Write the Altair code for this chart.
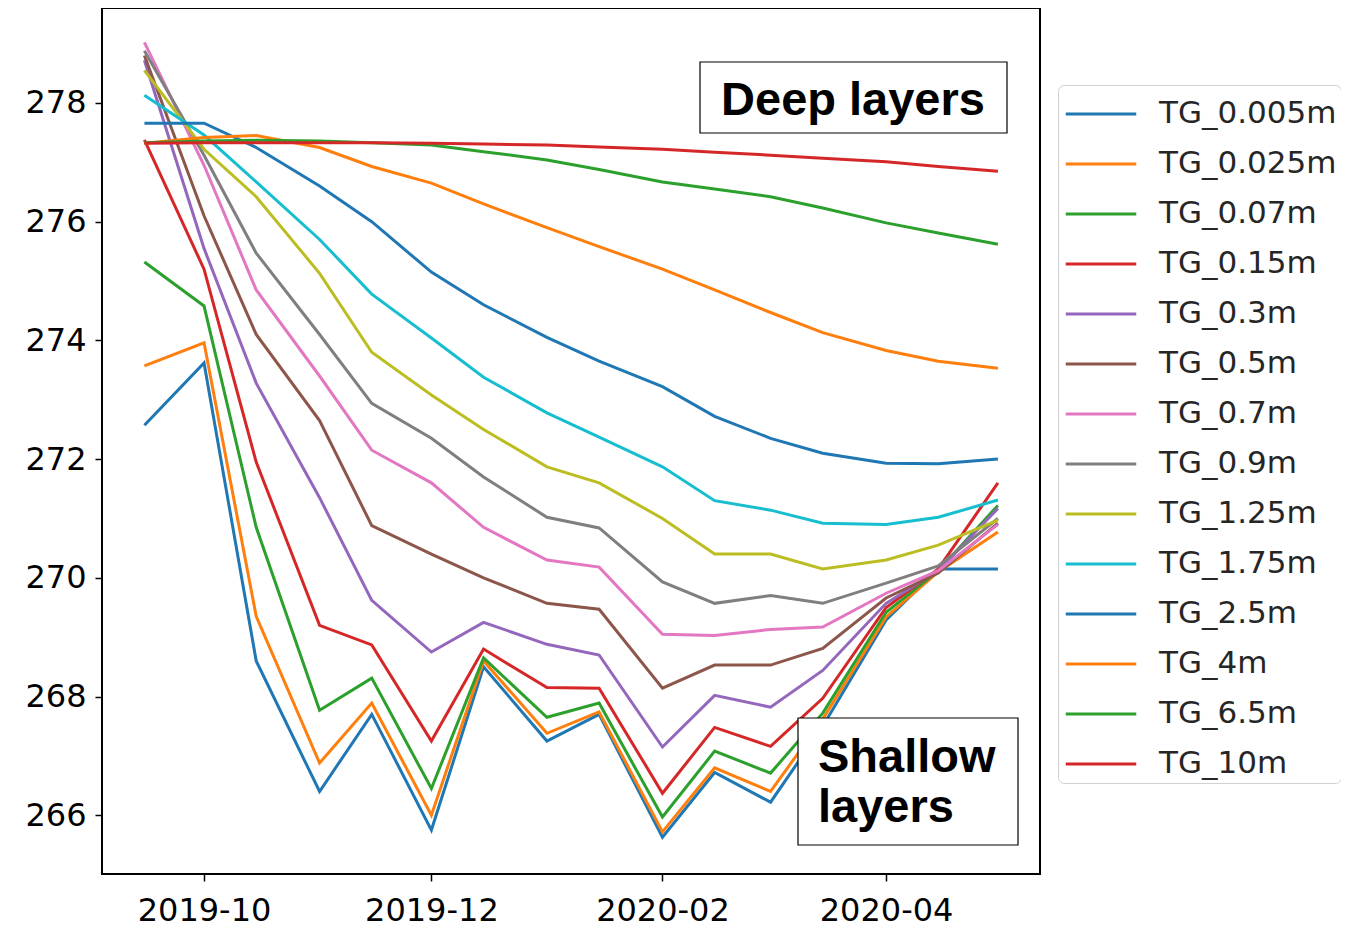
import altair as alt
import pandas as pd

# ---------------- data ----------------
dates = ["2019-09-15", "2019-10-01", "2019-10-15", "2019-11-01", "2019-11-15",
         "2019-12-01", "2019-12-15", "2020-01-01", "2020-01-15", "2020-02-01",
         "2020-02-15", "2020-03-01", "2020-03-15", "2020-04-01", "2020-04-15",
         "2020-05-01"]

series_names = ["TG_0.005m", "TG_0.025m", "TG_0.07m", "TG_0.15m", "TG_0.3m",
                "TG_0.5m", "TG_0.7m", "TG_0.9m", "TG_1.25m", "TG_1.75m",
                "TG_2.5m", "TG_4m", "TG_6.5m", "TG_10m"]

tg_0_005 = [272.57, 273.62, 268.60, 266.40, 267.70, 265.75, 268.50, 267.25, 267.70, 265.63, 266.72, 266.22, 267.50, 269.29, 270.15, 270.15]
tg_0_025 = [273.57, 273.96, 269.35, 266.88, 267.89, 266.00, 268.60, 267.38, 267.74, 265.72, 266.80, 266.40, 267.62, 269.34, 270.10, 270.77]
tg_0_07 = [275.32, 274.58, 270.85, 267.77, 268.31, 266.45, 268.65, 267.65, 267.89, 265.97, 267.08, 266.71, 267.72, 269.42, 270.12, 271.22]
tg_0_15 = [277.38, 275.20, 271.95, 269.20, 268.87, 267.25, 268.80, 268.15, 268.14, 266.37, 267.48, 267.16, 267.97, 269.50, 270.15, 271.60]
tg_0_3 = [278.72, 275.55, 273.28, 271.35, 269.62, 268.75, 269.25, 268.88, 268.70, 267.15, 268.02, 267.82, 268.44, 269.57, 270.12, 271.17]
tg_0_5 = [278.80, 276.10, 274.10, 272.65, 270.88, 270.40, 270.00, 269.57, 269.47, 268.14, 268.53, 268.53, 268.81, 269.66, 270.08, 270.92]
tg_0_7 = [279.02, 276.95, 274.85, 273.40, 272.15, 271.60, 270.85, 270.30, 270.18, 269.05, 269.03, 269.13, 269.17, 269.74, 270.12, 270.90]
tg_0_9 = [278.88, 277.12, 275.47, 274.10, 272.94, 272.35, 271.70, 271.02, 270.84, 269.93, 269.57, 269.70, 269.57, 269.91, 270.20, 271.00]
tg_1_25 = [278.55, 277.22, 276.42, 275.13, 273.80, 273.08, 272.50, 271.87, 271.60, 271.00, 270.40, 270.40, 270.15, 270.30, 270.55, 270.97]
tg_1_75 = [278.13, 277.46, 276.67, 275.70, 274.78, 274.04, 273.38, 272.78, 272.37, 271.87, 271.30, 271.14, 270.92, 270.90, 271.02, 271.31]
tg_2_5 = [277.66, 277.66, 277.25, 276.60, 276.00, 275.15, 274.60, 274.05, 273.65, 273.22, 272.72, 272.35, 272.10, 271.93, 271.92, 272.00]
tg_4 = [277.32, 277.42, 277.45, 277.25, 276.93, 276.65, 276.30, 275.90, 275.58, 275.20, 274.85, 274.47, 274.13, 273.83, 273.65, 273.53]
tg_6_5 = [277.33, 277.36, 277.37, 277.36, 277.33, 277.29, 277.18, 277.04, 276.88, 276.67, 276.55, 276.42, 276.23, 275.98, 275.81, 275.62]
tg_10 = [277.32, 277.33, 277.33, 277.33, 277.33, 277.32, 277.31, 277.29, 277.26, 277.22, 277.17, 277.12, 277.07, 277.01, 276.93, 276.85]

all_series = [tg_0_005, tg_0_025, tg_0_07, tg_0_15, tg_0_3, tg_0_5, tg_0_7,
              tg_0_9, tg_1_25, tg_1_75, tg_2_5, tg_4, tg_6_5, tg_10]

colors = ["#1f77b4", "#ff7f0e", "#2ca02c", "#d62728", "#9467bd", "#8c564b",
          "#e377c2", "#7f7f7f", "#bcbd22", "#17becf", "#1f77b4", "#ff7f0e",
          "#2ca02c", "#d62728"]

y_ticks = [266, 268, 270, 272, 274, 276, 278]

rows = []
for name, vals in zip(series_names, all_series):
    for d, v in zip(dates, vals):
        rows.append({"date": d, "layer": name, "temp": v})
df = pd.DataFrame(rows)

x_domain = [alt.DateTime(year=2019, month=9, date=3, hours=15, utc=True),
            alt.DateTime(year=2020, month=5, date=12, hours=7, utc=True)]
x_ticks = [alt.DateTime(year=2019, month=10, date=1, utc=True),
           alt.DateTime(year=2019, month=12, date=1, utc=True),
           alt.DateTime(year=2020, month=2, date=1, utc=True),
           alt.DateTime(year=2020, month=4, date=1, utc=True)]

PLOT_W = 938
PLOT_H = 866

lines = alt.Chart(df).mark_line(strokeWidth=3).encode(
    x=alt.X("date:T",
            scale=alt.Scale(type="utc", domain=x_domain),
            axis=alt.Axis(values=x_ticks, format="%Y-%m", title=None,
                          labelPadding=14)),
    y=alt.Y("temp:Q",
            scale=alt.Scale(domain=[265.01, 279.60], nice=False, zero=False),
            axis=alt.Axis(values=y_ticks, title=None, labelPadding=9)),
    color=alt.Color("layer:N",
                    scale=alt.Scale(domain=series_names, range=colors),
                    legend=alt.Legend(
                        title=None, orient="none", legendX=956, legendY=77,
                        symbolType="M-1.5,0H1.5", symbolSize=2209,
                        symbolStrokeWidth=3, symbolOffset=14,
                        labelFont="DejaVu Sans", labelFontSize=31,
                        labelColor="#262626", labelOffset=33, labelLimit=400,
                        strokeColor="#d0d0d0", fillColor="white",
                        cornerRadius=6, padding=4, rowPadding=10)),
)

one = pd.DataFrame({"k": [0]})

deep_box = alt.Chart(one).mark_rect(fill="white", stroke="black", strokeWidth=1.2).encode(
    x=alt.value(598), x2=alt.value(905), y=alt.value(54), y2=alt.value(125))
deep_text = alt.Chart(one).mark_text(
    text="Deep layers", font="Liberation Sans", fontWeight="bold", fontSize=47,
    align="center", baseline="alphabetic", color="black").encode(
    x=alt.value(751), y=alt.value(107))

shallow_box = alt.Chart(one).mark_rect(fill="white", stroke="black", strokeWidth=1.2).encode(
    x=alt.value(696), x2=alt.value(916), y=alt.value(710), y2=alt.value(837))
shallow_text1 = alt.Chart(one).mark_text(
    text="Shallow", font="Liberation Sans", fontWeight="bold", fontSize=47,
    align="left", baseline="alphabetic", color="black").encode(
    x=alt.value(716), y=alt.value(764))
shallow_text2 = alt.Chart(one).mark_text(
    text="layers", font="Liberation Sans", fontWeight="bold", fontSize=47,
    align="left", baseline="alphabetic", color="black").encode(
    x=alt.value(716), y=alt.value(814))

chart = alt.layer(lines, deep_box, deep_text, shallow_box, shallow_text1, shallow_text2).properties(
    width=PLOT_W, height=PLOT_H,
    autosize=alt.AutoSizeParams(type="none"),
    padding={"left": 94, "top": 0, "right": 301, "bottom": 57},
    background="white",
).configure_view(
    stroke="black", strokeWidth=2
).configure_axis(
    labelFont="DejaVu Sans", labelFontSize=32, labelColor="black",
    tickColor="black", tickWidth=1.5, tickSize=7, domain=False, grid=False,
)

chart.save("out.html", embed_options={"renderer": "svg", "actions": False})
